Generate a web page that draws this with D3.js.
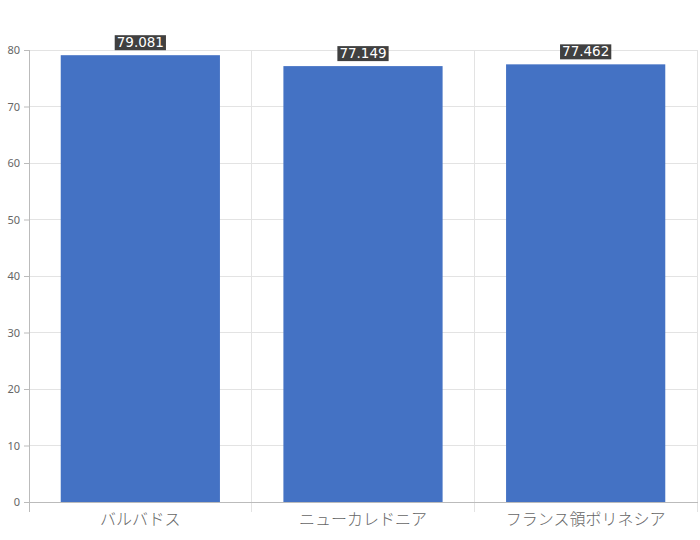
<!DOCTYPE html>
<html><head><meta charset="utf-8">
<script src="https://cdn.jsdelivr.net/npm/d3@7"></script>
<style>body{margin:0;background:#fff;} text{font-family:"Noto Sans CJK JP","Noto Sans",sans-serif;}</style>
</head><body><svg id="c" width="700" height="540"></svg>
<script>
const categories = ["バルバドス", "ニューカレドニア", "フランス領ポリネシア"];
const values = [79.081, 77.149, 77.462];
const yTicks = [0, 10, 20, 30, 40, 50, 60, 70, 80];

const svg = d3.select("#c");
const m = {l: 29, r: 697, t: 50, b: 502};
const x = d3.scaleBand().domain(categories).range([m.l, m.r]).paddingInner(0.285).paddingOuter(0.1425);
const xb = d3.scaleBand().domain(categories).range([m.l, m.r]);
const y = d3.scaleLinear().domain([0, 80]).range([m.b, m.t]);

// horizontal grid
svg.append("g").selectAll("line").data(yTicks).join("line")
  .attr("x1", m.l).attr("x2", m.r).attr("y1", d => y(d)).attr("y2", d => y(d))
  .attr("stroke", "#e3e3e3").attr("stroke-width", 1).attr("shape-rendering", "crispEdges");
// vertical grid at band boundaries
const bounds = categories.map(c => xb(c)).concat([m.r]);
svg.append("g").selectAll("line").data(bounds).join("line")
  .attr("x1", d => d).attr("x2", d => d).attr("y1", m.t).attr("y2", m.b + 10)
  .attr("stroke", (d, i) => i === 0 ? "#bbb" : "#e3e3e3").attr("shape-rendering", "crispEdges");

// y axis
const ya = svg.append("g").attr("transform", `translate(${m.l},0)`)
  .call(d3.axisLeft(y).tickValues(yTicks).tickSize(5).tickPadding(4));
ya.select(".domain").remove();
ya.selectAll(".tick line").attr("stroke", "#bbb");
ya.selectAll(".tick text").attr("fill", "#666").style("font-size", "11px").style("font-family", "Noto Sans, sans-serif");

// x axis
const xa = svg.append("g").attr("transform", `translate(0,${m.b})`)
  .call(d3.axisBottom(xb).tickSize(0).tickPadding(12));
xa.select(".domain").attr("stroke", "#bbb").attr("shape-rendering", "crispEdges");
xa.selectAll(".tick text").attr("fill", "#666").style("font-size", "16px").style("font-weight", "300");

// bars
svg.append("g").selectAll("rect").data(categories).join("rect")
  .attr("x", d => x(d)).attr("width", x.bandwidth())
  .attr("y", (d, i) => y(values[i])).attr("height", (d, i) => y(0) - y(values[i]))
  .attr("fill", "#4472c4");

// labels
const lg = svg.append("g").selectAll("g").data(categories).join("g")
  .attr("transform", (d, i) => `translate(${x(d) + x.bandwidth() / 2},${y(values[i]) - 4})`);
lg.append("text").attr("text-anchor", "middle").attr("y", -4)
  .attr("fill", "#fff").style("font-size", "13.5px").style("font-family", "DejaVu Sans, sans-serif")
  .text((d, i) => values[i].toFixed(3));
lg.each(function() {
  const g = d3.select(this); const t = g.select("text").node().getBBox();
  g.insert("rect", "text").attr("x", t.x - 2).attr("y", t.y + 1).attr("width", t.width + 4).attr("height", t.height - 1).attr("fill", "#404040");
});
</script></body></html>
